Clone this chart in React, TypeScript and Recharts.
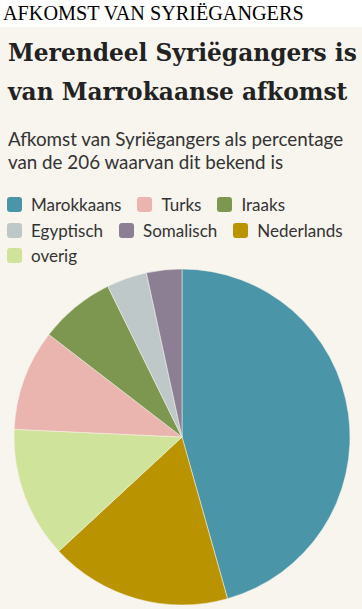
import { Cell, Pie, PieChart } from "recharts";

const categories = [
  "Marokkaans",
  "Nederlands",
  "overig",
  "Turks",
  "Iraaks",
  "Egyptisch",
  "Somalisch",
];
const counts = [94, 36, 26, 20, 15, 8, 7];
const colors = [
  "#4a95a8",
  "#b99400",
  "#d0e39a",
  "#e9b5ae",
  "#7d9751",
  "#bfc8c8",
  "#8c7e93",
];
const legendOrder = [
  "Marokkaans",
  "Turks",
  "Iraaks",
  "Egyptisch",
  "Somalisch",
  "Nederlands",
  "overig",
];

const bg = "#f8f5ee";
const sans = "Lato, 'Noto Sans', sans-serif";

const chartData = categories.map((name, i) => ({
  name,
  value: counts[i],
  fill: colors[i],
}));

const App = () => {
  return (
    <div
      style={{
        position: "absolute",
        top: 0,
        left: 0,
        width: 362,
        height: 609,
        background: "#fff",
        overflow: "hidden",
      }}
    >
      <div
        style={{
          position: "absolute",
          top: 2,
          left: 3,
          fontFamily: "'Liberation Serif', serif",
          fontSize: 20.2,
          lineHeight: "22px",
          color: "#000",
          whiteSpace: "nowrap",
        }}
      >
        AFKOMST VAN SYRIËGANGERS
      </div>
      <div
        style={{
          position: "absolute",
          top: 27,
          left: 0,
          width: 362,
          height: 582,
          background: bg,
        }}
      >
        <div
          style={{
            position: "absolute",
            top: 6,
            left: 8,
            fontFamily: "'DejaVu Serif', serif",
            fontWeight: "bold",
            fontSize: 23.3,
            lineHeight: "39px",
            color: "#222",
            whiteSpace: "nowrap",
          }}
        >
          Merendeel Syriëgangers is
          <br />
          van Marrokaanse afkomst
        </div>
        <div
          style={{
            position: "absolute",
            top: 100,
            left: 8,
            fontFamily: sans,
            fontSize: 18.8,
            lineHeight: "23px",
            color: "#333",
            whiteSpace: "nowrap",
          }}
        >
          Afkomst van Syriëgangers als percentage
          <br />
          van de 206 waarvan dit bekend is
        </div>
        <div
          style={{
            position: "absolute",
            top: 165,
            left: 7,
            width: 350,
            display: "flex",
            flexWrap: "wrap",
            columnGap: 16,
            rowGap: 0,
            fontFamily: sans,
            fontSize: 17,
            color: "#333",
          }}
        >
          {legendOrder.map((name) => (
            <div
              key={name}
              style={{
                display: "flex",
                alignItems: "center",
                height: 25.5,
              }}
            >
              <span
                style={{
                  display: "inline-block",
                  width: 15,
                  height: 15,
                  borderRadius: 3,
                  marginRight: 9,
                  background: colors[categories.indexOf(name)],
                }}
              />
              {name}
            </div>
          ))}
        </div>
        <div style={{ position: "absolute", top: 238, left: 0 }}>
          <PieChart
            width={362}
            height={344}
            margin={{ top: 0, right: 0, bottom: 0, left: 0 }}
          >
            <Pie
              data={chartData}
              dataKey="value"
              nameKey="name"
              cx={182}
              cy={172}
              outerRadius={168}
              startAngle={90}
              endAngle={-270}
              stroke={bg}
              strokeWidth={0.5}
              isAnimationActive={false}
            >
              {chartData.map((d) => (
                <Cell key={d.name} fill={d.fill} />
              ))}
            </Pie>
          </PieChart>
        </div>
      </div>
    </div>
  );
};

export default App;
